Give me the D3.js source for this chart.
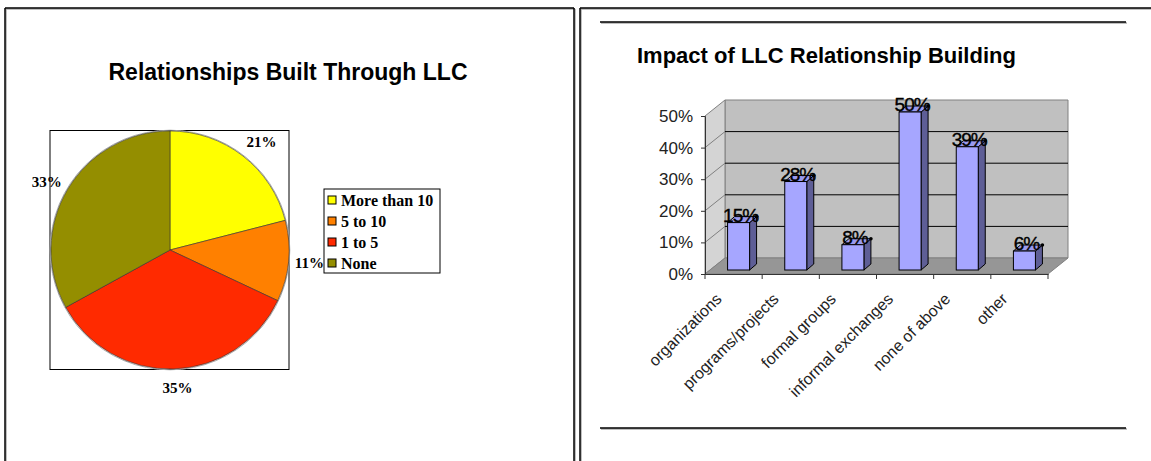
<!DOCTYPE html>
<html>
<head>
<meta charset="utf-8">
<script src="https://cdn.jsdelivr.net/npm/d3@7"></script>
<style>
  body { margin: 0; background: #fff; }
  svg { display: block; }
</style>
</head>
<body>
<div id="chart"></div>
<script>
// pie data
const pieLabels = ["More than 10", "5 to 10", "1 to 5", "None"];
const pieValues = [21, 11, 35, 33];
const pieColors = ["#ffff00", "#ff8000", "#ff2a00", "#948e00"];

// bar data
const barCategories = ["organizations", "programs/projects", "formal groups", "informal exchanges", "none of above", "other"];
const barValues = [0.15, 0.28, 0.08, 0.50, 0.39, 0.06];
const yTicks = [0, 0.1, 0.2, 0.3, 0.4, 0.5];

const svg = d3.select("#chart").append("svg")
    .attr("width", 1151)
    .attr("height", 461);

// ----- panel frames -----
function frameLine(x1, y1, x2, y2, w) {
    svg.append("line").attr("x1", x1 + 1).attr("y1", y1 + 1).attr("x2", x2 + 1).attr("y2", y2 + 1)
        .attr("stroke", "#aaa").attr("stroke-width", w);
    svg.append("line").attr("x1", x1).attr("y1", y1).attr("x2", x2).attr("y2", y2)
        .attr("stroke", "#000").attr("stroke-width", w);
}
// left panel
frameLine(5, 8, 574, 8, 1.5);
frameLine(5, 8, 5, 470, 1.5);
frameLine(574, 8, 574, 470, 1.5);
// right panel
frameLine(580, 8, 1160, 8, 1.5);
frameLine(580, 8, 580, 470, 1.5);
frameLine(600, 22, 1126, 22, 1.5);
frameLine(600, 428, 1126, 428, 1.5);

// ----- Pie chart -----
svg.append("text")
    .attr("x", 288)
    .attr("y", 80)
    .attr("text-anchor", "middle")
    .style("font-family", "Liberation Sans, Arial, sans-serif")
    .style("font-weight", "bold")
    .style("font-size", "23px")
    .text("Relationships Built Through LLC");

svg.append("rect")
    .attr("x", 50).attr("y", 130.5)
    .attr("width", 239).attr("height", 239)
    .attr("fill", "none")
    .attr("stroke", "#000")
    .attr("stroke-width", 1);

const cx = 170, cy = 250, r = 119;
const pie = d3.pie().sort(null).value(d => d)(pieValues);
const arc = d3.arc().innerRadius(0).outerRadius(r);

const gPie = svg.append("g").attr("transform", `translate(${cx},${cy})`);
gPie.append("circle").attr("r", r + 0.8).attr("fill", "none").attr("stroke", "#aaa").attr("stroke-width", 1);
gPie.selectAll("path.slice")
    .data(pie)
    .enter().append("path")
    .attr("class", "slice")
    .attr("d", arc)
    .attr("fill", (d, i) => pieColors[i])
    .attr("stroke", "#333")
    .attr("stroke-width", 0.6);

// pie percent labels
const labelArc = d3.arc().innerRadius(r + 22).outerRadius(r + 22);
const labelNudge = [[5, 3], [-1, -1], [3, -3], [-2, 4]];
gPie.selectAll("text.plabel")
    .data(pie)
    .enter().append("text")
    .attr("class", "plabel")
    .attr("x", (d, i) => labelArc.centroid(d)[0] + labelNudge[i][0])
    .attr("y", (d, i) => labelArc.centroid(d)[1] + labelNudge[i][1])
    .attr("dy", "0.35em")
    .attr("text-anchor", "middle")
    .style("font-family", "Liberation Serif, Times New Roman, serif")
    .style("font-weight", "bold")
    .style("font-size", "15px")
    .text(d => d.data + "%");

// legend
const legend = svg.append("g").attr("transform", "translate(324,189)");
legend.append("rect")
    .attr("width", 116).attr("height", 84)
    .attr("fill", "#fff").attr("stroke", "#000").attr("stroke-width", 1);
const legendItems = legend.selectAll("g.item")
    .data(pieLabels)
    .enter().append("g")
    .attr("class", "item")
    .attr("transform", (d, i) => `translate(0,${11 + i * 21})`);
legendItems.append("rect")
    .attr("x", 4).attr("y", -4)
    .attr("width", 8).attr("height", 8)
    .attr("fill", (d, i) => pieColors[i])
    .attr("stroke", "#000").attr("stroke-width", 1);
legendItems.append("text")
    .attr("x", 17).attr("y", 0)
    .attr("dy", "0.35em")
    .style("font-family", "Liberation Serif, Times New Roman, serif")
    .style("font-weight", "bold")
    .style("font-size", "16px")
    .text(d => d);

// ----- 3D bar chart -----
svg.append("text")
    .attr("x", 637)
    .attr("y", 63)
    .style("font-family", "Liberation Sans, Arial, sans-serif")
    .style("font-weight", "bold")
    .style("font-size", "22px")
    .text("Impact of LLC Relationship Building");

const depthX = 20, depthY = -16;
const yBar = d3.scaleLinear().domain([0, 0.5]).range([274, 116]);
const xBar = d3.scaleBand().domain(barCategories).range([705, 1048]);
const x0 = 705, x1 = 1048;
const y0 = yBar(0), yTop = yBar(0.5);

const gBar = svg.append("g");
// back wall
gBar.append("polygon")
    .attr("points", [[x0 + depthX, yTop + depthY], [x1 + depthX, yTop + depthY], [x1 + depthX, y0 + depthY], [x0 + depthX, y0 + depthY]].join(" "))
    .attr("fill", "#c0c0c0").attr("stroke", "#808080").attr("stroke-width", 1);
// side wall
gBar.append("polygon")
    .attr("points", [[x0, yTop], [x0 + depthX, yTop + depthY], [x0 + depthX, y0 + depthY], [x0, y0]].join(" "))
    .attr("fill", "#d4d4d4").attr("stroke", "#808080").attr("stroke-width", 1);
// floor
gBar.append("polygon")
    .attr("points", [[x0, y0], [x0 + depthX, y0 + depthY], [x1 + depthX, y0 + depthY], [x1, y0]].join(" "))
    .attr("fill", "#969696").attr("stroke", "#808080").attr("stroke-width", 1);

// gridlines
gBar.selectAll("line.grid")
    .data(yTicks.filter(t => t > 0 && t < 0.5))
    .enter().append("line")
    .attr("class", "grid")
    .attr("x1", x0 + depthX).attr("x2", x1 + depthX)
    .attr("y1", d => yBar(d) + depthY).attr("y2", d => yBar(d) + depthY)
    .attr("stroke", "#000").attr("stroke-width", 1);
gBar.selectAll("line.sgrid")
    .data(yTicks.filter(t => t > 0 && t < 0.5))
    .enter().append("line")
    .attr("class", "sgrid")
    .attr("x1", x0).attr("x2", x0 + depthX)
    .attr("y1", d => yBar(d)).attr("y2", d => yBar(d) + depthY)
    .attr("stroke", "#808080").attr("stroke-width", 1);

// bars
const barW = 22, bdx = 7, bdy = -6, shift = 5, lift = -4;
const bars = gBar.selectAll("g.bar")
    .data(barValues)
    .enter().append("g")
    .attr("class", "bar");
const bx = (d, i) => xBar(barCategories[i]) + xBar.bandwidth() / 2 + shift - barW / 2;
bars.each(function(d, i) {
    const g = d3.select(this);
    const left = bx(d, i), right = left + barW;
    const top = yBar(d) + lift, bottom = y0 + lift;
    // side
    g.append("polygon")
        .attr("points", [[right, top], [right + bdx, top + bdy], [right + bdx, bottom + bdy], [right, bottom]].join(" "))
        .attr("fill", "#5e5e96").attr("stroke", "#000").attr("stroke-width", 1);
    // top
    g.append("polygon")
        .attr("points", [[left, top], [left + bdx, top + bdy], [right + bdx, top + bdy], [right, top]].join(" "))
        .attr("fill", "#9a9af0").attr("stroke", "#000").attr("stroke-width", 1);
    // front
    g.append("rect")
        .attr("x", left).attr("y", top)
        .attr("width", barW).attr("height", bottom - top)
        .attr("fill", "#a6a6ff").attr("stroke", "#000").attr("stroke-width", 1);
    g.append("circle")
        .attr("cx", right + bdx).attr("cy", top + bdy)
        .attr("r", 1.8).attr("fill", "#000");
    g.append("text")
        .attr("x", left + barW / 2 + 2)
        .attr("y", top - 1)
        .attr("text-anchor", "middle")
        .style("font-family", "Liberation Sans, Arial, sans-serif")
        .style("font-size", "19px")
        .style("letter-spacing", "-1px")
        .attr("fill", "#000")
        .attr("stroke", "#000")
        .attr("stroke-width", 0.4)
        .text(Math.round(d * 100) + "%");
});

// axes
const yAxis = svg.append("g")
    .attr("transform", `translate(${x0},0)`)
    .call(d3.axisLeft(yBar).tickValues(yTicks).tickFormat(d3.format(".0%")).tickSize(4).tickPadding(8));
yAxis.select(".domain").attr("stroke", "#333");
yAxis.selectAll(".tick line").attr("stroke", "#333");
yAxis.selectAll("text")
    .style("font-family", "Liberation Sans, Arial, sans-serif")
    .style("font-size", "17px")
    .attr("fill", "#222");

const xAxis = svg.append("g")
    .attr("transform", `translate(0,${y0})`)
    .call(d3.axisBottom(xBar).tickSize(0).tickFormat(""));
xAxis.select(".domain").attr("stroke", "#333");
svg.append("g").selectAll("line.xtick")
    .data(barCategories.concat(["_end"]))
    .enter().append("line")
    .attr("x1", (d, i) => xBar.range()[0] + i * xBar.step())
    .attr("x2", (d, i) => xBar.range()[0] + i * xBar.step())
    .attr("y1", y0).attr("y2", y0 + 5)
    .attr("stroke", "#333");

svg.append("g").selectAll("text.xlabel")
    .data(barCategories)
    .enter().append("text")
    .attr("class", "xlabel")
    .attr("transform", d => `translate(${xBar(d) + xBar.bandwidth() / 2 - 11},${y0 + 26}) rotate(-45)`)
    .attr("text-anchor", "end")
    .style("font-family", "Liberation Sans, Arial, sans-serif")
    .style("font-size", "16px")
    .attr("fill", "#222")
    .text(d => d);
</script>
</body>
</html>
